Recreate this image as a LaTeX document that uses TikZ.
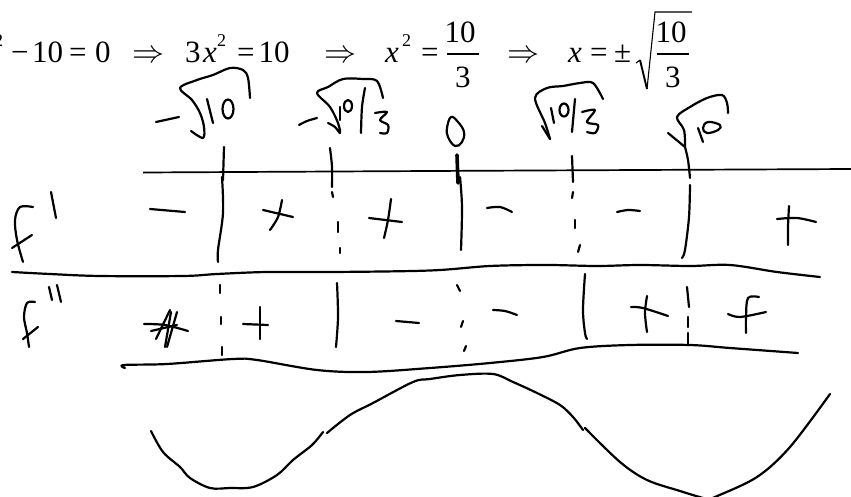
\documentclass[tikz,border=0pt]{standalone}
\usepackage{fontspec}
\setmainfont{Liberation Serif}
\newcommand{\inkline}[2][]{\draw[ink,#1] plot[smooth,tension=.55] coordinates {#2};}
\tikzset{
  ink/.style={line width=2.2pt,line cap=round,line join=round,black},
  rule/.style={line width=1.1pt,black},
  big/.style={inner sep=0pt,anchor=base west,font=\fontsize{31}{33}\selectfont},
  bigit/.style={big,font=\fontsize{31}{33}\selectfont\itshape},
  small/.style={inner sep=0pt,anchor=base west,font=\fontsize{18}{20}\selectfont},
  arrowsym/.style={inner sep=0pt,anchor=base west}
}
\begin{document}
\begin{tikzpicture}[x=1pt,y=-1pt]
\useasboundingbox (0,0) rectangle (851,497);
\fill[white] (0,0) rectangle (851,497);
% printed equation
\node[small] (s0) at (-6,47) {2};
\node[big] (m0) at (11,63) {−};
\node[big] (n0) at (32,63) {10};
\node[big] (e0) at (69,63) {=};
\node[big] (z0) at (95,63) {0};
\node[arrowsym] (a1) at (132,63) {\scalebox{3.2}{$\Rightarrow$}};
\node[big] (t3) at (185,63) {3};
\node[bigit] (x1) at (203,63) {x};
\node[small] (s1) at (217,47) {2};
\node[big] (e1) at (237,63) {=};
\node[big] (n1) at (258.5,63) {10};
\node[arrowsym] (a2) at (324,63) {\scalebox{3.2}{$\Rightarrow$}};
\node[bigit] (x2) at (385,63) {x};
\node[small] (s2) at (402,47) {2};
\node[big] (e2) at (421,63) {=};
\node[big] (n2) at (444.5,43) {10};
\node[big] (d2) at (455,88) {3};
\draw[rule] (447,54) -- (479,54);
\node[arrowsym] (a3) at (507,63) {\scalebox{3.2}{$\Rightarrow$}};
\node[bigit] (x3) at (568,63) {x};
\node[big] (e3) at (590,63) {=};
\node[big] (pm) at (614,63) {±};
\node[big] (n3) at (655.5,43) {10};
\node[big] (d3) at (665,88) {3};
\draw[rule] (657,54) -- (689,54);
\draw[line width=1.1pt,line join=miter] (636,63) -- (640,60);
\draw[line width=1.9pt] (640,60) -- (647,89);
\draw[line width=1.1pt,line join=miter] (647,89) -- (655,12) -- (692,12);
% axis line
\draw[line width=1.7pt] (143,172.5) -- (430,171) -- (851,169);
% labels above the axis
\inkline{(156,122)(179,117)}
\inkline{(191,131)(203,138)(204,127)(200,113)(192,100)(180,88)(197,80)(213,75)(230,68)(243,70)(248,78)(250,98)}
\inkline{(207,99)(213,123)}
\draw[ink] (228,109) ellipse [x radius=5.5,y radius=9.5];
\inkline{(299,125)(307,121)(317,118)}
\inkline{(328,123)(335,127)(340,133)(338,123)(330,107)(317,93)(328,87)(343,79)(363,79)(377,81)(383,98)}
\inkline{(340,107)(340,120)}
\draw[ink] (348,106) ellipse [x radius=4,y radius=6];
\inkline{(365,88)(362,107)(361,133)}
\inkline{(375,113)(387,112)(380,120)(388,125)(387,133)(380,133)}
\draw[ink] plot[smooth cycle,tension=.7] coordinates {(451,117)(458,122)(464,132)(462,142)(455,146)(448,137)(447,128)};
\inkline{(542,126)(550,139)}
\inkline{(550,139)(545,123)(535,98)(547,88)(563,86)(580,83)(593,83)(603,99)}
\inkline{(551,108)(554,123)}
\draw[ink] (564,110) ellipse [x radius=4.5,y radius=6.5];
\inkline{(575,99)(572,132)}
\inkline{(582,112)(595,110)(587,122)(598,125)(595,133)(587,132)}
\inkline{(668,133)(685,147)}
\inkline{(685,147)(684,130)(677,117)(690,107)(707,98)(722,95)(727,103)(728,113)}
\inkline{(698,128)(703,142)}
\draw[ink] plot[smooth cycle,tension=.7] coordinates {(708,122)(720,125)(718,130)(707,133)(703,128)};
% f' row
\inkline{(33,207)(20,207)(15,220)(17,240)(23,262)}
\inkline{(32,235)(12,248)}
\inkline{(51,192)(56,218)}
\inkline{(150,209)(185,212)}
\inkline{(224,147)(223,180)}
\inkline{(222,177)(223,213)(218,250)(218,262)}
\inkline{(263,210)(293,217)}
\inkline{(282,200)(278,217)(270,230)}
\inkline{(330,148)(332,167)(332,187)}
\inkline{(332,192)(333,197)}
\inkline{(338,222)(338,232)}
\inkline{(340,248)(340,253)}
\inkline{(369,218)(402,222)}
\inkline{(391,199)(388,220)(384,238)}
\draw[line width=3.6pt,line cap=round] (457,155) -- (458,183);
\inkline{(460,177)(462,207)(461,250)}
\inkline{(487,208)(500,207)(512,212)}
\inkline{(572,156)(573,182)}
\inkline{(573,192)(572,198)}
\inkline{(575,220)(575,228)}
\inkline{(580,245)(578,252)}
\inkline{(617,212)(628,210)(640,211)}
\inkline{(685,147)(688,160)(690,178)}
\inkline{(690,185)(689,217)(685,250)(682,258)}
\inkline{(777,219)(797,218)(816,222)}
\inkline{(789,206)(788,227)(788,245)}
% divider between rows
\inkline{(12,272)(50,274)(100,276)(183,276)(217,274)(267,272)(333,272)(430,270.5)(490,266)(547,265)(597,266)(640,265)(690,266)(730,265)(777,272)(820,277)}
% f'' row
\inkline{(35,302)(27,303)(24,317)(27,333)(29,347)}
\inkline{(38,327)(23,339)}
\inkline{(49,287)(52,300)}
\inkline{(57,285)(61,302)}
\inkline{(144,324)(165,325)(188,331)}
\inkline{(151,331)(177,325)}
\inkline{(156,339)(170,310)}
\inkline{(165,347)(171,312)}
\inkline{(177,312)(167,347)}
\inkline{(220,285)(220,293)}
\inkline{(221,317)(221,324)}
\inkline{(222,347)(222,355)}
\inkline{(243,324)(268,325)}
\inkline{(260,307)(260,339)}
\inkline{(337,283)(338,317)(336,347)}
\inkline{(396,321)(419,323)}
\inkline{(457,285)(460,291)}
\inkline{(463,321)(461,327)}
\inkline{(466,346)(464,351)}
\inkline{(493,310)(505,311)(517,315)}
\inkline{(585,274)(583,310)(585,333)(587,339)}
\inkline{(631,307)(643,308)(668,316)}
\inkline{(647,296)(645,313)(647,332)}
\inkline{(687,287)(689,307)}
\inkline{(688,317)(688,327)}
\inkline{(688,333)(688,345)}
\inkline{(759,297)(748,298)(746,317)(746,333)}
\inkline{(728,314)(740,317)(766,312)}
% bottom rule of the table
\inkline{(125,368)(124,365)(167,364)(233,359)(257,360)(317,370)(367,372)(430,368)(490,363)(543,357)(580,348)(630,345)(690,345)(730,348)(798,353)}
% sketch of the graph
\inkline{(151,431)(163,452)(180,467)(190,478)(210,488)(230,488)(253,487)(277,475)(293,460)(312,445)(323,432)}
\inkline{(327,433)(350,415)(373,403)(413,382)(430,379)(460,375)(493,374)(513,382)(537,393)(560,405)(573,417)(583,430)}
\inkline{(585,428)(620,462)(647,480)(680,491)(703,498)(709,499)(715,497)(757,477)(790,447)(830,394)}
\end{tikzpicture}
\end{document}
